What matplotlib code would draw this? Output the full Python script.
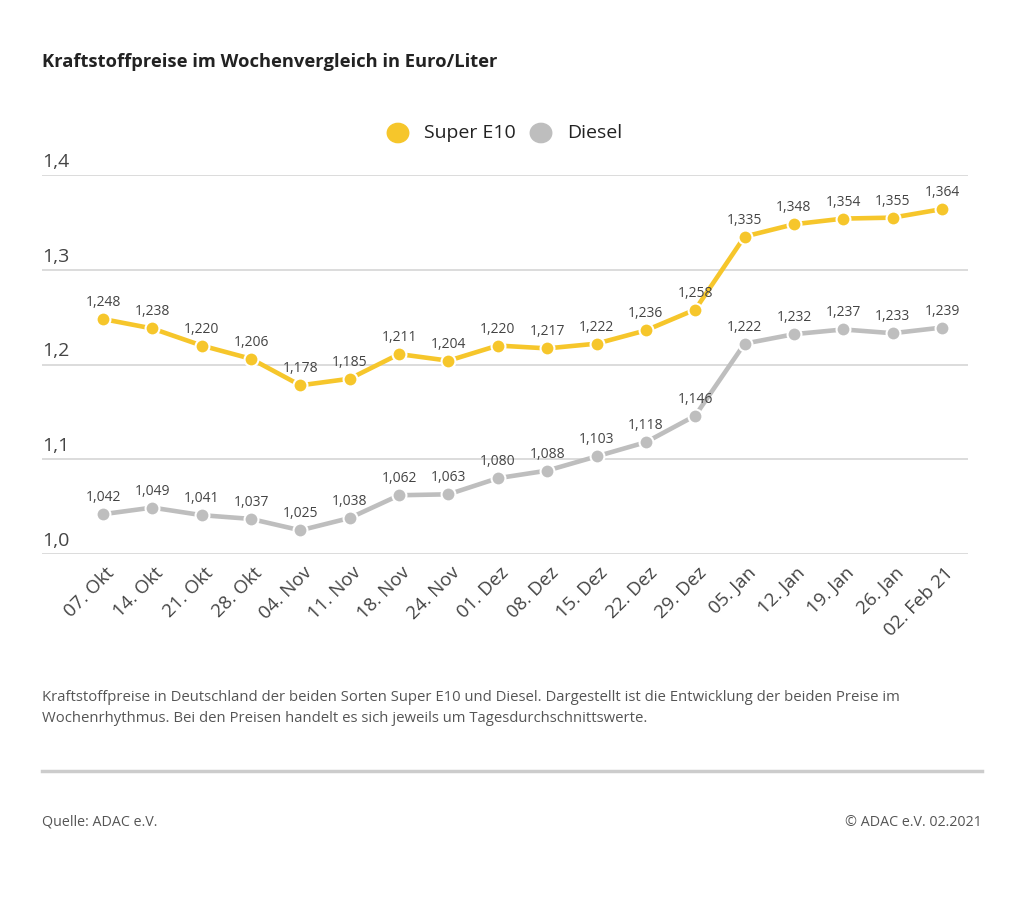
import matplotlib.pyplot as plt
import matplotlib.transforms as mtransforms
import numpy as np

plt.rcParams['font.family'] = ['Open Sans', 'DejaVu Sans']

dates = ["07. Okt", "14. Okt", "21. Okt", "28. Okt", "04. Nov", "11. Nov", "18. Nov",
         "24. Nov", "01. Dez", "08. Dez", "15. Dez", "22. Dez", "29. Dez", "05. Jan",
         "12. Jan", "19. Jan", "26. Jan", "02. Feb 21"]
e10 = [1.248, 1.238, 1.220, 1.206, 1.178, 1.185, 1.211, 1.204, 1.220, 1.217, 1.222,
       1.236, 1.258, 1.335, 1.348, 1.354, 1.355, 1.364]
diesel = [1.042, 1.049, 1.041, 1.037, 1.025, 1.038, 1.062, 1.063, 1.080, 1.088, 1.103,
          1.118, 1.146, 1.222, 1.232, 1.237, 1.233, 1.239]
yticks = [1.0, 1.1, 1.2, 1.3, 1.4]

yellow = "#F6C62B"
grey = "#BEBEBE"

fig = plt.figure(figsize=(10.24, 9.18), dpi=100)
ax = fig.add_axes([42/1024, 364/918, 926/1024, 379/918])

x = np.arange(len(dates))
for vals, col in [(diesel, grey), (e10, yellow)]:
    ax.plot(x, vals, color=col, lw=3.3, zorder=3)
    ax.plot(x, vals, 'o', color=col, ms=10, mec='white', mew=1.5, zorder=4)
    for xi, v in zip(x, vals):
        ax.annotate(("%.3f" % v).replace('.', ','), (xi, v), xytext=(0, 6.5),
                    textcoords='offset points', ha='center', va='bottom',
                    fontsize=10, color="#444444", zorder=5)

ax.set_xlim(-61/49.35, 17 + 26/49.35)
ax.set_ylim(1.0, 1.4)
lift = mtransforms.offset_copy(ax.get_yaxis_transform(), fig=fig, x=0, y=3, units='points')
for yt in yticks:
    ax.axhline(yt, color="#d6d6d6", lw=1.2, zorder=1)
    ax.text(0.0, yt, ("%.1f" % yt).replace('.', ','), transform=lift,
            ha='left', va='bottom', fontsize=14, color="#444444")
ax.set_yticks([])
ax.set_xticks(x)
ax.set_xticklabels(dates, rotation=45, ha='right', rotation_mode='anchor',
                   fontsize=13.5, color="#444444")
ax.tick_params(axis='x', length=0, pad=7)
for lab in ax.get_xticklabels():
    lab.set_transform(lab.get_transform() + mtransforms.ScaledTranslation(2/100, 0, fig.dpi_scale_trans))
for s in ax.spines.values():
    s.set_visible(False)

fig.text(42/1024, 1 - 62/918, "Kraftstoffpreise im Wochenvergleich in Euro/Liter",
         fontsize=13.2, fontweight='bold', color="#222222", va='center')

# legend
fig.patches.append(plt.Circle((398/1024, 1 - 133/918), 0.0105, transform=fig.transFigure,
                              color=yellow, figure=fig))
fig.text(424/1024, 1 - 133/918, "Super E10", fontsize=14, color="#222222", va='center')
fig.patches.append(plt.Circle((541/1024, 1 - 133/918), 0.0105, transform=fig.transFigure,
                              color=grey, figure=fig))
fig.text(567/1024, 1 - 133/918, "Diesel", fontsize=14, color="#222222", va='center')

fig.text(42/1024, 1 - 708/918,
         "Kraftstoffpreise in Deutschland der beiden Sorten Super E10 und Diesel. Dargestellt ist die Entwicklung der beiden Preise im\n"
         "Wochenrhythmus. Bei den Preisen handelt es sich jeweils um Tagesdurchschnittswerte.",
         fontsize=10.7, color="#555555", va='center', linespacing=1.55)

fig.add_artist(plt.Line2D([42/1024, 982/1024], [1 - 771/918, 1 - 771/918],
                          color="#cccccc", lw=2.5, transform=fig.transFigure))
fig.text(42/1024, 1 - 822/918, "Quelle: ADAC e.V.", fontsize=10.3, color="#555555", va='center')
fig.text(982/1024, 1 - 822/918, "© ADAC e.V. 02.2021", fontsize=10.3, color="#555555",
         va='center', ha='right')

fig.savefig("out.png", dpi=100, facecolor='white')
